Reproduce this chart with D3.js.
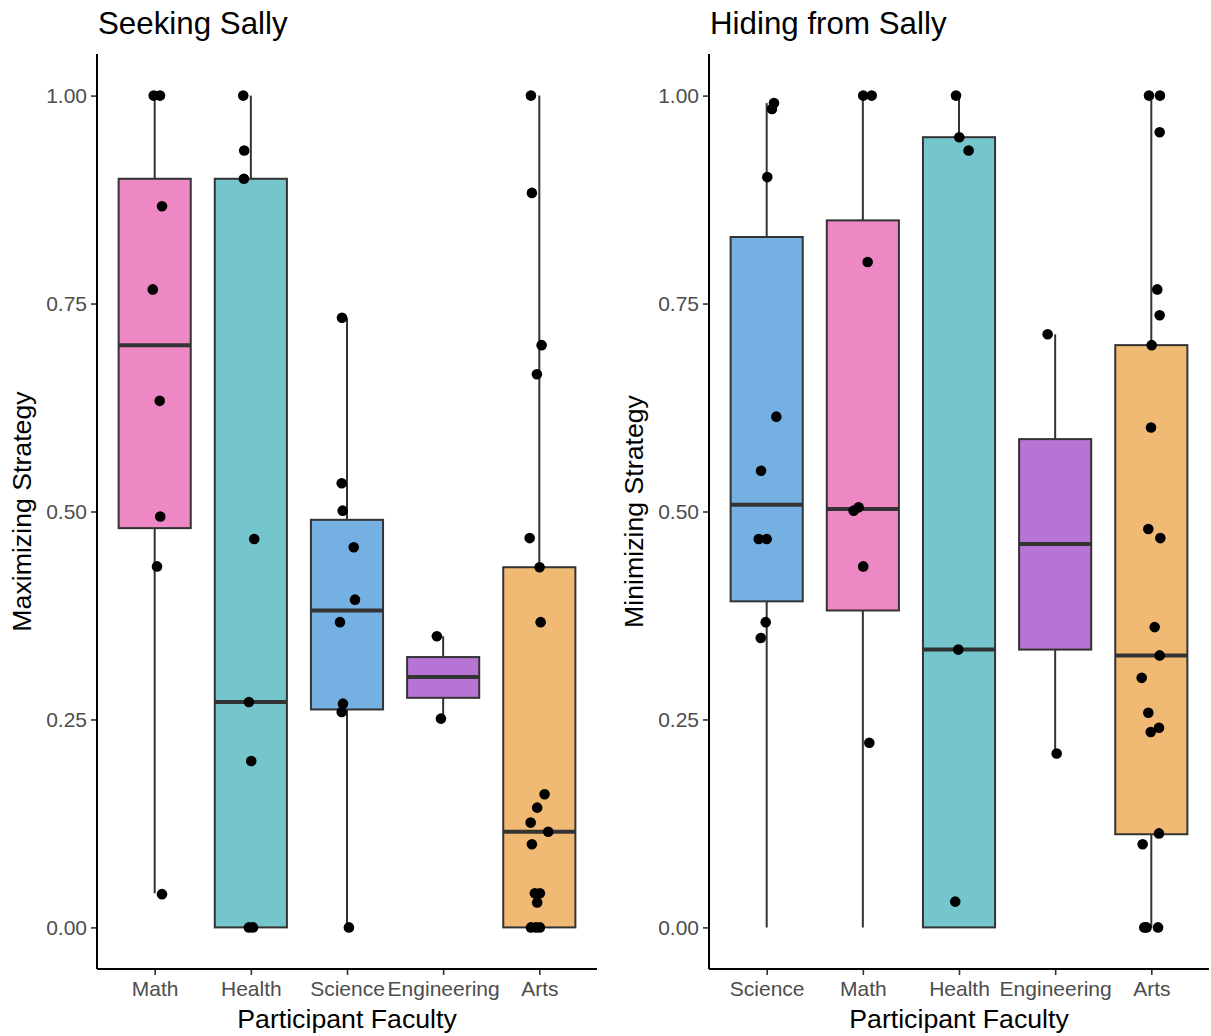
<!DOCTYPE html>
<html>
<head>
<meta charset="utf-8">
<script src="https://cdn.jsdelivr.net/npm/d3@7"></script>
<style>
  html, body { margin: 0; padding: 0; background: #fff; }
  svg { display: block; font-family: "Liberation Sans", Arial, Helvetica, sans-serif; }
</style>
</head>
<body>
<svg id="chart" width="1211" height="1036"></svg>
<script>
// ---------- DATA ----------
const yTicks = [0, 0.25, 0.5, 0.75, 1.0];
const yTickLabels = ["0.00", "0.25", "0.50", "0.75", "1.00"];

const facultyColors = {
  Math: "#EE88C5", Health: "#74C5CC", Science: "#74B0E2",
  Engineering: "#B874D4", Arts: "#F0BA75"
};

// Seeking Sally
const seekCategories = ["Math", "Health", "Science", "Engineering", "Arts"];
// [whisker low, q1, median, q3, whisker high]
const seekStats = [
  [0.041, 0.48, 0.70, 0.90, 1.00],
  [0.00, 0.00, 0.271, 0.90, 1.00],
  [0.00, 0.262, 0.381, 0.49, 0.733],
  [0.251, 0.276, 0.301, 0.325, 0.35],
  [0.00, 0.00, 0.115, 0.433, 1.00]
];
// points: [value, jitter (fraction of category step)]
const seekMath = [[1.0,-0.01],[1.0,0.055],[0.867,0.076],[0.767,-0.02],[0.633,0.052],[0.494,0.058],[0.434,0.024],[0.040,0.076]];
const seekHealth = [[1.0,-0.079],[0.934,-0.069],[0.90,-0.072],[0.467,0.035],[0.271,-0.02],[0.200,0.004],[0,-0.02],[0,0.022]];
const seekScience = [[0.733,-0.052],[0.534,-0.055],[0.501,-0.045],[0.457,0.07],[0.394,0.083],[0.367,-0.073],[0.269,-0.042],[0.259,-0.055],[0,0.02]];
const seekEngineering = [[0.35,-0.065],[0.251,-0.023]];
const seekArts = [[1.0,-0.087],[0.883,-0.077],[0.70,0.024],[0.665,-0.025],[0.468,-0.1],[0.433,0.003],[0.367,0.014],[0.160,0.055],[0.144,-0.022],[0.126,-0.09],[0.115,0.093],[0.100,-0.077],[0.041,-0.046],[0.041,0.006],[0.030,-0.022],[0,-0.087],[0,-0.035],[0,0.006]];
const seekPoints = [seekMath, seekHealth, seekScience, seekEngineering, seekArts];

// Hiding from Sally
const hideCategories = ["Science", "Math", "Health", "Engineering", "Arts"];
const hideStats = [
  [0.00, 0.392, 0.508, 0.830, 0.991],
  [0.00, 0.381, 0.503, 0.850, 1.00],
  [0.00, 0.00, 0.334, 0.950, 1.00],
  [0.209, 0.334, 0.461, 0.587, 0.713],
  [0.00, 0.112, 0.327, 0.70, 1.00]
];
const hideScience = [[0.991,0.076],[0.984,0.055],[0.902,0.006],[0.614,0.1],[0.549,-0.059],[0.467,-0.083],[0.467,0],[0.367,-0.01],[0.348,-0.062]];
const hideMath = [[1.0,0.004],[1.0,0.092],[0.80,0.05],[0.505,-0.044],[0.501,-0.096],[0.434,0.004],[0.222,0.067]];
const hideHealth = [[1.0,-0.031],[0.950,0.003],[0.934,0.1],[0.334,-0.007],[0.031,-0.039]];
const hideEngineering = [[0.713,-0.078],[0.209,0.016]];
const hideArts = [[1.0,-0.024],[1.0,0.09],[0.956,0.087],[0.767,0.062],[0.736,0.087],[0.70,0.004],[0.601,-0.003],[0.479,-0.031],[0.468,0.094],[0.361,0.035],[0.327,0.087],[0.300,-0.1],[0.258,-0.031],[0.240,0.08],[0.235,-0.006],[0.113,0.08],[0.100,-0.09],[0,-0.073],[0,-0.05],[0,0.07]];
const hidePoints = [hideScience, hideMath, hideHealth, hideEngineering, hideArts];

const panels = [
  { title: "Seeking Sally", yTitle: "Maximizing Strategy", cats: seekCategories, stats: seekStats, points: seekPoints, left: 97 },
  { title: "Hiding from Sally", yTitle: "Minimizing Strategy", cats: hideCategories, stats: hideStats, points: hidePoints, left: 709 }
];

// ---------- DRAW ----------
(function () {
const svg = d3.select("#chart");
const panelW = 500, panelTop = 54, panelBottom = 969;

panels.forEach(p => {
  const g = svg.append("g");
  const x = d3.scalePoint().domain(p.cats).range([p.left, p.left + panelW]).padding(0.6);
  const step = x.step();
  const y = d3.scaleLinear().domain([-0.05, 1.05]).range([panelBottom, panelTop]);
  const boxW = step * 0.75;

  // boxes
  p.cats.forEach((c, i) => {
    const [lo, q1, med, q3, hi] = p.stats[i];
    const cx = x(c);
    const bg = g.append("g");
    bg.append("line").attr("x1", cx).attr("x2", cx).attr("y1", y(q3)).attr("y2", y(hi))
      .attr("stroke", "#333333").attr("stroke-width", 2);
    bg.append("line").attr("x1", cx).attr("x2", cx).attr("y1", y(q1)).attr("y2", y(lo))
      .attr("stroke", "#333333").attr("stroke-width", 2);
    bg.append("rect").attr("x", cx - boxW / 2).attr("width", boxW)
      .attr("y", y(q3)).attr("height", y(q1) - y(q3))
      .attr("fill", facultyColors[c]).attr("stroke", "#333333").attr("stroke-width", 2);
    bg.append("line").attr("x1", cx - boxW / 2).attr("x2", cx + boxW / 2)
      .attr("y1", y(med)).attr("y2", y(med))
      .attr("stroke", "#333333").attr("stroke-width", 4);
  });

  // points
  p.cats.forEach((c, i) => {
    g.append("g").selectAll("circle").data(p.points[i]).join("circle")
      .attr("cx", d => x(c) + d[1] * step)
      .attr("cy", d => y(d[0]))
      .attr("r", 5.3)
      .attr("fill", "#000");
  });

  // y axis
  const yAxis = d3.axisLeft(y).tickValues(yTicks).tickFormat((d, i) => yTickLabels[i]).tickSize(6).tickPadding(4);
  const ya = g.append("g").attr("transform", `translate(${p.left},0)`).call(yAxis);
  ya.select(".domain").remove();
  ya.selectAll(".tick line").attr("stroke", "#333333").attr("stroke-width", 1.6);
  ya.selectAll(".tick text").attr("fill", "#4D4D4D").attr("font-size", 21)
    .attr("font-family", "'Liberation Sans', Arial, sans-serif");
  g.append("line").attr("x1", p.left).attr("x2", p.left).attr("y1", panelTop).attr("y2", panelBottom)
    .attr("stroke", "#000").attr("stroke-width", 2);

  // x axis
  const xAxis = d3.axisBottom(x).tickSize(6).tickPadding(6);
  const xa = g.append("g").attr("transform", `translate(0,${panelBottom})`).call(xAxis);
  xa.select(".domain").remove();
  xa.selectAll(".tick line").attr("stroke", "#333333").attr("stroke-width", 1.6);
  xa.selectAll(".tick text").attr("fill", "#4D4D4D").attr("font-size", 21)
    .attr("font-family", "'Liberation Sans', Arial, sans-serif");
  g.append("line").attr("x1", p.left).attr("x2", p.left + panelW).attr("y1", panelBottom).attr("y2", panelBottom)
    .attr("stroke", "#000").attr("stroke-width", 2);

  // titles
  g.append("text").attr("x", p.left + 1).attr("y", 34).attr("font-size", 31.3).attr("fill", "#000")
    .text(p.title);
  g.append("text").attr("x", p.left + panelW / 2).attr("y", 1028).attr("text-anchor", "middle")
    .attr("font-size", 26.7).attr("fill", "#000").text("Participant Faculty");
  g.append("text").attr("transform", `translate(${p.left - 66},${(panelTop + panelBottom) / 2}) rotate(-90)`)
    .attr("text-anchor", "middle").attr("font-size", 26.7).attr("fill", "#000").text(p.yTitle);
});
})();
</script>
</body>
</html>
